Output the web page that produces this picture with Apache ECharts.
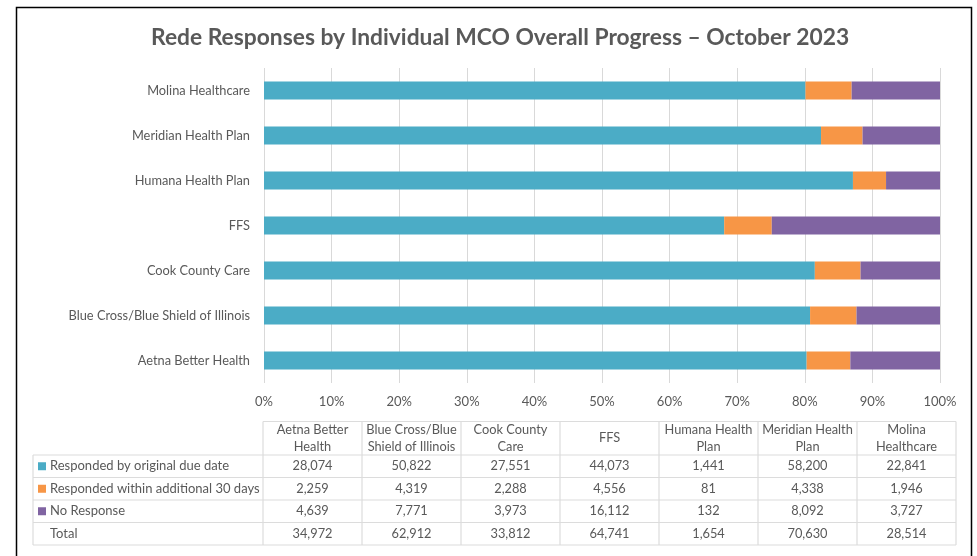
<!DOCTYPE html>
<html>
<head>
<meta charset="utf-8">
<script src="https://cdn.jsdelivr.net/npm/echarts@6/dist/echarts.min.js"></script>
<style>
html,body{margin:0;padding:0;background:#fff;}
#chart{width:977px;height:556px;}
</style>
</head>
<body>
<div id="chart"></div>
<script>
const titleText = 'Rede Responses by Individual MCO Overall Progress \u2013 October 2023';
const categories = ['Aetna Better Health','Blue Cross/Blue Shield of Illinois','Cook County Care','FFS','Humana Health Plan','Meridian Health Plan','Molina Healthcare'];
const tableHeaders = ['Aetna Better\nHealth','Blue Cross/Blue\nShield of Illinois','Cook County\nCare','FFS','Humana Health\nPlan','Meridian Health\nPlan','Molina\nHealthcare'];
const seriesNames = ['Responded by original due date','Responded within additional 30 days','No Response'];
const onTime = [28074,50822,27551,44073,1441,58200,22841];
const within30 = [2259,4319,2288,4556,81,4338,1946];
const noResp = [4639,7771,3973,16112,132,8092,3727];
const totals = [34972,62912,33812,64741,1654,70630,28514];
const colors = ['#4BACC6','#F79646','#8064A2'];

const FONT = 'Lato, "Open Sans", sans-serif';
const TXT = '#595959';
const raw = [onTime, within30, noResp];
const pct = raw.map(arr => arr.map((v, i) => v / totals[i] * 100));

const chart = echarts.init(document.getElementById('chart'));

// table graphics
const g = [];
g.push({type:'rect', silent:true, z:100, shape:{x:16.5,y:7.5,width:955,height:600}, style:{fill:'none', stroke:'#000', lineWidth:1.5}});
const colX = [263,362,461,560,659,758,857,956];
const rowY = [421.5,455,477.5,500,522.5,545];
const lineColor = '#dcdcdc';
function hline(x1,x2,y){g.push({type:'line',silent:true,shape:{x1:x1,y1:y,x2:x2,y2:y},style:{stroke:lineColor,lineWidth:1.2}});}
function vline(x,y1,y2){g.push({type:'line',silent:true,shape:{x1:x,y1:y1,x2:x,y2:y2},style:{stroke:lineColor,lineWidth:1.2}});}
hline(colX[0], colX[7], rowY[0]);
for (let r = 1; r < rowY.length; r++) hline(33, colX[7], rowY[r]);
vline(33, rowY[1], rowY[5]);
for (let c = 0; c < colX.length; c++) vline(colX[c], rowY[0], rowY[5]);
const tfont = '12.8px ' + FONT;
tableHeaders.forEach((h, i) => {
  const cx = (colX[i] + colX[i+1]) / 2;
  g.push({type:'text', silent:true, style:{text:h, x:cx, y:(rowY[0]+rowY[1])/2, textAlign:'center', textVerticalAlign:'middle', font:tfont, fill:TXT, lineHeight:17}});
});
const rowsData = [onTime, within30, noResp, totals];
const rowLabels = seriesNames.concat(['Total']);
rowsData.forEach((arr, r) => {
  const cy = (rowY[r+1] + rowY[r+2]) / 2;
  if (r < 3) {
    g.push({type:'rect', silent:true, shape:{x:38, y:cy-4, width:8, height:8}, style:{fill:colors[r]}});
  }
  g.push({type:'text', silent:true, style:{text:rowLabels[r], x:50, y:cy, textAlign:'left', textVerticalAlign:'middle', font:'13px ' + FONT, fill:TXT}});
  arr.forEach((v, i) => {
    const cx = (colX[i] + colX[i+1]) / 2;
    g.push({type:'text', silent:true, style:{text:v.toLocaleString('en-US'), x:cx, y:cy, textAlign:'center', textVerticalAlign:'middle', font:tfont, fill:TXT}});
  });
});

chart.setOption({
  animation: false,
  title: {text: titleText, left: 146, top: 21, textStyle: {fontFamily: FONT, fontWeight: 'bold', fontSize: 22.8, color: TXT}},
  grid: {left: 264, right: 37, top: 68, height: 315, containLabel: false},
  xAxis: {
    type: 'value', min: 0, max: 100, interval: 10,
    axisLabel: {formatter: '{value}%', color: TXT, fontFamily: FONT, fontSize: 13, margin: 12},
    axisLine: {show: false}, axisTick: {show: false},
    splitLine: {show: true, lineStyle: {color: '#d9d9d9', width: 1}}
  },
  yAxis: {
    type: 'category', data: categories,
    axisLabel: {color: TXT, fontFamily: FONT, fontSize: 12.8, margin: 14},
    axisLine: {show: false}, axisTick: {show: false}
  },
  series: seriesNames.map((n, k) => ({
    name: n, type: 'bar', stack: 'all', barWidth: 18,
    data: pct[k], itemStyle: {color: colors[k]},
    emphasis: {disabled: true}
  })),
  graphic: g
});
</script>
</body>
</html>
